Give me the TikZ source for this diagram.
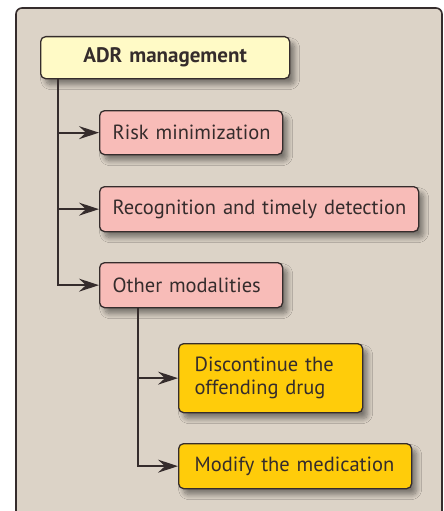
\documentclass[tikz,border=0pt]{standalone}
\usepackage{fontspec}
\setmainfont{PT Sans}
\usetikzlibrary{arrows.meta,shadows.blur}
\definecolor{panelfill}{HTML}{DCD3C7}
\definecolor{edge}{HTML}{352C2C}
\definecolor{topfill}{HTML}{FFFAC6}
\definecolor{pinkfill}{HTML}{F8BCB8}
\definecolor{goldfill}{HTML}{FFCC0A}
\tikzset{
  box/.style={draw=edge, line width=1.3pt, rounded corners=5pt, anchor=north west,
    inner xsep=13pt, inner ysep=0pt, text=edge, font=\fontsize{20.5}{23}\selectfont,
    blur shadow={shadow xshift=5pt, shadow yshift=-6pt, shadow blur radius=5pt, shadow blur steps=10, shadow opacity=45}},
  topbox/.style={box, fill=topfill, align=center, font=\fontsize{21}{23}\selectfont\bfseries},
  pinkbox/.style={box, fill=pinkfill, align=left},
  goldbox/.style={box, fill=goldfill, align=left, inner xsep=16pt},
  link/.style={draw=edge, line width=1.8pt,
    -{Stealth[length=20pt, width=13pt, inset=7pt]}},
}
\begin{document}
\begin{tikzpicture}[x=1pt, y=-1pt]
  \useasboundingbox (0,0) rectangle (444,511);
  \clip (0,0) rectangle (444,511);
  % background panel
  \draw[draw=edge, line width=1.6pt, fill=panelfill, rounded corners=6pt] (16,8) rectangle (442,540);

  % boxes (text width = box width - 2 * inner xsep)
  \node[topbox, minimum width=249pt, minimum height=42pt, text width=223pt] (adr) at (40,36) {ADR management};
  \node[pinkbox, minimum width=183pt, minimum height=44pt, text width=157pt] (risk) at (99,110) {\mbox{Risk minimization}};
  \node[pinkbox, minimum width=319pt, minimum height=45pt, text width=293pt] (recog) at (99,186) {\mbox{Recognition and timely detection}};
  \node[pinkbox, minimum width=183pt, minimum height=45pt, text width=157pt] (other) at (99,262) {\mbox{Other modalities}};
  \node[goldbox, minimum width=184pt, minimum height=69pt, text width=152pt] (disc) at (178,343) {Discontinue the\\offending drug};
  \node[goldbox, minimum width=233pt, minimum height=45pt, text width=201pt] (modify) at (178,443) {\mbox{Modify the medication}};

  % connectors
  \coordinate (trunk) at ([xshift=18pt]adr.south west);
  \coordinate (subtrunk) at ([xshift=39pt]other.south west);
  \draw[link] (trunk) |- (risk.west);
  \draw[link] (trunk) |- (recog.west);
  \draw[link] (trunk) |- (other.west);
  \draw[link] (subtrunk) |- (disc.west);
  \draw[link] (subtrunk) |- (modify.west);
\end{tikzpicture}
\end{document}
